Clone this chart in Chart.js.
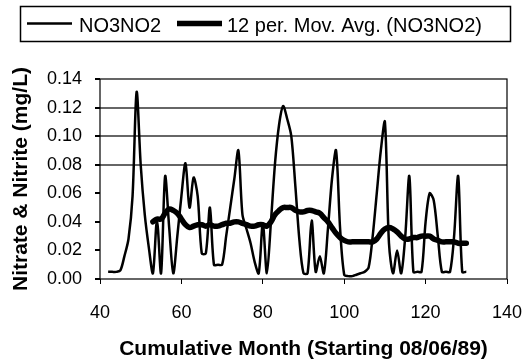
<!DOCTYPE html>
<html>
<head>
<meta charset="utf-8">
<script src="https://cdn.jsdelivr.net/npm/chart.js@4.4.1/dist/chart.umd.min.js"></script>
<style>
  html, body { margin: 0; padding: 0; background: #fff; }
</style>
</head>
<body>
<canvas id="nitrateChart" width="522" height="362"></canvas>
<script>
// months on the x axis (cumulative month since 08/06/89)
const months = [42, 43, 44, 45, 46, 47, 48, 49, 50, 51, 52, 53, 54, 55, 56, 57, 58, 59, 60,
  61, 62, 63, 64, 65, 66, 67, 68, 69, 70, 71, 72, 73, 74, 75, 76, 77, 78, 79, 80,
  81, 82, 83, 84, 85, 86, 87, 88, 89, 90, 91, 92, 93, 94, 95, 96, 97, 98, 99, 100,
  101, 102, 103, 104, 105, 106, 107, 108, 109, 110, 111, 112, 113, 114, 115, 116, 117, 118, 119, 120,
  121, 122, 123, 124, 125, 126, 127, 128, 129, 130];

// NO3NO2 (mg/L)
const no3no2 = [0.005, 0.005, 0.005, 0.006, 0.016, 0.028, 0.058, 0.131, 0.080, 0.045, 0.022, 0.004, 0.041, 0.004, 0.072, 0.036, 0.004, 0.030, 0.058,
  0.081, 0.050, 0.071, 0.058, 0.018, 0.018, 0.050, 0.010, 0.010, 0.010, 0.030, 0.050, 0.070, 0.090, 0.045, 0.035, 0.025, 0.012, 0.004, 0.039,
  0.004, 0.040, 0.081, 0.108, 0.121, 0.112, 0.100, 0.065, 0.027, 0.004, 0.004, 0.041, 0.005, 0.016, 0.004, 0.035, 0.070, 0.090, 0.035, 0.003,
  0.002, 0.002, 0.003, 0.004, 0.005, 0.008, 0.030, 0.060, 0.090, 0.110, 0.025, 0.004, 0.020, 0.004, 0.030, 0.072, 0.005, 0.005, 0.005, 0.040,
  0.060, 0.055, 0.030, 0.005, 0.005, 0.005, 0.030, 0.072, 0.005, 0.005];

// 12 period moving average trendline
const avgMonths = [53, 54, 55, 56, 57, 58, 59, 60,
  61, 62, 63, 64, 65, 66, 67, 68, 69, 70, 71, 72, 73, 74, 75, 76, 77, 78, 79, 80,
  81, 82, 83, 84, 85, 86, 87, 88, 89, 90, 91, 92, 93, 94, 95, 96, 97, 98, 99, 100,
  101, 102, 103, 104, 105, 106, 107, 108, 109, 110, 111, 112, 113, 114, 115, 116, 117, 118, 119, 120,
  121, 122, 123, 124, 125, 126, 127, 128, 129, 130];
const movAvg = [0.040, 0.042, 0.042, 0.046, 0.049, 0.048, 0.046, 0.042,
  0.038, 0.036, 0.037, 0.038, 0.038, 0.037, 0.038, 0.037, 0.037, 0.038, 0.039, 0.039, 0.040, 0.040, 0.039, 0.038, 0.037, 0.037, 0.038, 0.038,
  0.037, 0.040, 0.045, 0.048, 0.050, 0.050, 0.050, 0.048, 0.047, 0.047, 0.048, 0.048, 0.047, 0.046, 0.043, 0.040, 0.036, 0.032, 0.029, 0.027,
  0.026, 0.026, 0.026, 0.026, 0.026, 0.026, 0.026, 0.028, 0.032, 0.035, 0.036, 0.035, 0.033, 0.030, 0.028, 0.028, 0.029, 0.029, 0.030, 0.030,
  0.030, 0.028, 0.027, 0.026, 0.026, 0.026, 0.026, 0.025, 0.025, 0.025];

const seriesLabels = ['NO3NO2', '12 per. Mov. Avg. (NO3NO2)'];
const xTitle = 'Cumulative Month (Starting 08/06/89)';
const yTitle = 'Nitrate & Nitrite (mg/L)';

const FONT = "'Liberation Sans', Arial, sans-serif";

// frame round the plot area
const frame = {
  id: 'frame',
  afterDatasetsDraw(chart) {
    const a = chart.chartArea, ctx = chart.ctx;
    ctx.save();
    ctx.strokeStyle = '#000';
    ctx.lineWidth = 1.2;
    ctx.strokeRect(a.left, a.top, a.right - a.left, a.bottom - a.top);
    ctx.restore();
  }
};

// boxed legend at the top, like the old spreadsheet one
const boxLegend = {
  id: 'boxLegend',
  afterDraw(chart) {
    const ctx = chart.ctx;
    const ds = chart.data.datasets;
    ctx.save();
    ctx.strokeStyle = '#000';
    ctx.lineWidth = 1.5;
    ctx.strokeRect(20.5, 6.5, 490, 35);
    ctx.font = '20px ' + FONT;
    ctx.fillStyle = '#000';
    ctx.textBaseline = 'alphabetic';
    const items = [{ x: 27, tx: 79 }, { x: 177, tx: 227 }];
    items.forEach((it, i) => {
      ctx.beginPath();
      ctx.lineWidth = ds[i].borderWidth;
      ctx.lineCap = 'butt';
      ctx.moveTo(it.x, 23.5);
      ctx.lineTo(it.x + 45, 23.5);
      ctx.stroke();
      ctx.fillText(ds[i].label, it.tx, 32);
    });
    ctx.restore();
  }
};

const ctx = document.getElementById('nitrateChart').getContext('2d');
new Chart(ctx, {
  type: 'line',
  data: {
    datasets: [
      {
        label: seriesLabels[0],
        data: months.map((m, i) => ({ x: m, y: no3no2[i] })),
        borderColor: '#000',
        borderWidth: 2.5,
        pointRadius: 0,
        tension: 0.3,
        order: 1
      },
      {
        label: seriesLabels[1],
        data: avgMonths.map((m, i) => ({ x: m, y: movAvg[i] })),
        borderColor: '#000',
        borderWidth: 5.5,
        pointRadius: 0,
        tension: 0.4,
        borderJoinStyle: 'round',
        borderCapStyle: 'round',
        order: 0
      }
    ]
  },
  options: {
    responsive: false,
    animation: false,
    layout: { padding: { top: 79, right: 0, bottom: 0, left: 0 } },
    plugins: {
      legend: { display: false },
      tooltip: { enabled: false }
    },
    scales: {
      x: {
        type: 'linear',
        min: 40,
        max: 140,
        afterFit: s => { s.height = 83; s.paddingRight = 15; s.paddingLeft = 0; },
        border: { display: false },
        grid: { drawOnChartArea: false, drawTicks: true, tickLength: 5, tickColor: '#000' },
        ticks: { stepSize: 20, padding: 18, color: '#000', font: { family: FONT, size: 18 } },
        title: {
          display: true, text: xTitle, color: '#000',
          padding: { top: 0, bottom: 0 },
          font: { family: FONT, size: 21, weight: 'bold' }
        }
      },
      y: {
        min: 0,
        max: 0.14,
        afterFit: s => { s.width = 100; },
        border: { display: false },
        grid: {
          drawTicks: true, tickLength: 5, tickColor: '#000', lineWidth: 2,
          color: c => (c.tick && c.tick.value > 0.079 && c.tick.value < 0.121) ? '#666' : 'rgba(0,0,0,0)'
        },
        ticks: {
          stepSize: 0.02, padding: 13, color: '#000',
          font: { family: FONT, size: 18 },
          callback: v => v.toFixed(2)
        },
        title: {
          display: true, text: yTitle, color: '#000',
          padding: { top: 9, bottom: 0 },
          font: { family: FONT, size: 21, weight: 'bold' }
        }
      }
    }
  },
  plugins: [frame, boxLegend]
});
</script>
</body>
</html>
